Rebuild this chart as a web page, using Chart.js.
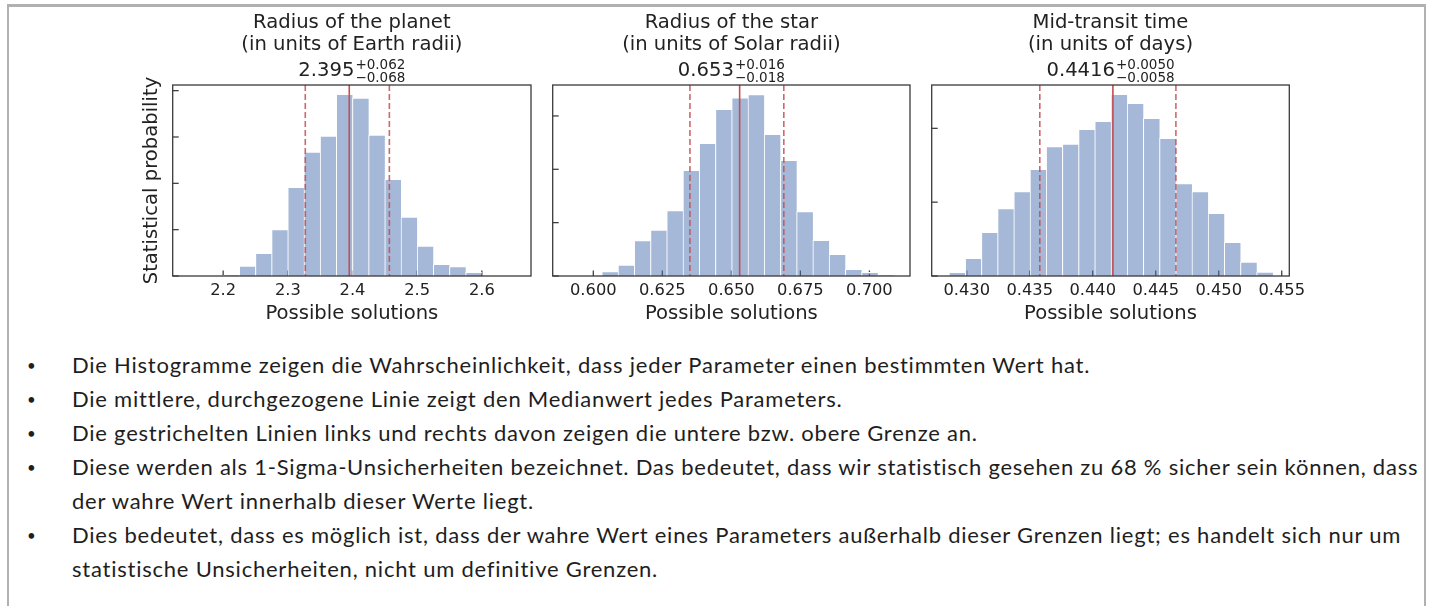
<!DOCTYPE html>
<html>
<head>
<meta charset="utf-8">
<script src="https://cdn.jsdelivr.net/npm/chart.js@4.4.1/dist/chart.umd.min.js"></script>
<style>
  html, body { margin: 0; padding: 0; background: #fff; }
  body { width: 1434px; height: 606px; position: relative; overflow: hidden; }
  .frame { position: absolute; left: 7px; top: 4px; width: 1419px; height: 640px; box-sizing: border-box;
           border-top: 3px solid #b1b1b1; border-left: 2px solid #b1b1b1; border-right: 2px solid #b1b1b1; }
  canvas.panel { position: absolute; top: 0; }
  ul.notes { position: absolute; left: 0; top: 348px; margin: 0; padding: 0; list-style: none;
             font-family: Lato, sans-serif; font-size: 22px; letter-spacing: 0.77px; color: #1e1e1e; }
  ul.notes li { position: relative; padding-left: 72px; line-height: 34px; white-space: nowrap; }
  ul.notes li::before { content: '\2022'; position: absolute; left: 27px; font-size: 15px; }
</style>
</head>
<body>
<div class="frame"></div>
<canvas class="panel" id="hist0"></canvas>
<canvas class="panel" id="hist1"></canvas>
<canvas class="panel" id="hist2"></canvas>
<ul class="notes">
  <li>Die Histogramme zeigen die Wahrscheinlichkeit, dass jeder Parameter einen bestimmten Wert hat.</li>
  <li>Die mittlere, durchgezogene Linie zeigt den Medianwert jedes Parameters.</li>
  <li>Die gestrichelten Linien links und rechts davon zeigen die untere bzw. obere Grenze an.</li>
  <li>Diese werden als 1-Sigma-Unsicherheiten bezeichnet. Das bedeutet, dass wir statistisch gesehen zu 68&#8239;% sicher sein können, dass<br>der wahre Wert innerhalb dieser Werte liegt.</li>
  <li>Dies bedeutet, dass es möglich ist, dass der wahre Wert eines Parameters außerhalb dieser Grenzen liegt; es handelt sich nur um<br>statistische Unsicherheiten, nicht um definitive Grenzen.</li>
</ul>
<script>
// ---- data ----
// radius of the planet: first bin edge, bin width, bar heights
const planetBinStart = 2.2;
const planetBinWidth = 0.025;
const planetHeights = [0.014, 0.216, 0.489, 1.0, 1.914, 2.676, 3.022, 3.921, 3.842, 3.043, 2.086, 1.273, 0.647, 0.252, 0.201, 0.079];
const planetTicks = [2.2, 2.3, 2.4, 2.5, 2.6];
const planetTickLabels = ['2.2', '2.3', '2.4', '2.5', '2.6'];

// radius of the star
const starBinStart = 0.6031;
const starBinWidth = 0.00588;
const starHeights = [0.081, 0.206, 0.663, 0.863, 1.225, 1.981, 2.488, 3.125, 3.338, 3.4, 2.656, 2.169, 1.206, 0.669, 0.406, 0.125, 0.069, 0.02];
const starTicks = [0.600, 0.625, 0.650, 0.675, 0.700];
const starTickLabels = ['0.600', '0.625', '0.650', '0.675', '0.700'];

// mid-transit time
const timeBinStart = 0.4286;
const timeBinWidth = 0.001285;
const timeHeights = [0.05, 0.239, 0.591, 0.912, 1.142, 1.445, 1.752, 1.788, 1.986, 2.095, 2.46, 2.339, 2.135, 1.865, 1.251, 1.142, 0.849, 0.456, 0.19, 0.054];
const timeTicks = [0.430, 0.435, 0.440, 0.445, 0.450, 0.455];
const timeTickLabels = ['0.430', '0.435', '0.440', '0.445', '0.450', '0.455'];

const titles = [
  ['Radius of the planet', '(in units of Earth radii)'],
  ['Radius of the star', '(in units of Solar radii)'],
  ['Mid-transit time', '(in units of days)']
];
const medians = [2.395, 0.653, 0.4416];
const errPlus = [0.062, 0.016, 0.0050];
const errMinus = [0.068, 0.018, 0.0058];
const medianLabels = ['2.395', '0.653', '0.4416'];
const plusLabels = ['+0.062', '+0.016', '+0.0050'];
const minusLabels = ['\u22120.068', '\u22120.018', '\u22120.0058'];
const xRanges = [[2.122, 2.676], [0.5853, 0.7147], [0.42722, 0.4556]];
const yMax = [4.122, 3.58, 2.587];
const yTicks = [[0, 1, 2, 3, 4], [0, 1, 2, 3], [0, 1, 2]];

// ---- layout ----
const boxLeft = [172.7, 552.7, 931.7];
const boxRight = [531, 910, 1289.3];
const PLOT_TOP = 85, PLOT_BOTTOM = 276, CANVAS_H = 330;
const INK = '#222222';
const SPINE = '#3a3a3a';
const FONT = '"DejaVu Sans", sans-serif';

const panels = [
  { start: planetBinStart, width: planetBinWidth, heights: planetHeights, ticks: planetTicks, labels: planetTickLabels },
  { start: starBinStart, width: starBinWidth, heights: starHeights, ticks: starTicks, labels: starTickLabels },
  { start: timeBinStart, width: timeBinWidth, heights: timeHeights, ticks: timeTicks, labels: timeTickLabels }
];

function makeDecor(i) {
  const p = panels[i];
  return {
    id: 'histDecor' + i,
    // x ticks sit below the bars (seaborn axisbelow)
    beforeDatasetsDraw(chart) {
      const { ctx, chartArea: a, scales: { x } } = chart;
      ctx.save();
      ctx.strokeStyle = SPINE;
      ctx.lineWidth = 1.25;
      p.ticks.forEach(v => {
        const px = x.getPixelForValue(v);
        ctx.beginPath();
        ctx.moveTo(px, a.bottom);
        ctx.lineTo(px, a.bottom - 5.5);
        ctx.stroke();
      });
      ctx.restore();
    },
    afterDatasetsDraw(chart) {
      const { ctx, chartArea: a, scales: { x, y } } = chart;
      ctx.save();
      // median + 1-sigma bounds
      const vline = (v, dashed) => {
        const px = x.getPixelForValue(v);
        ctx.beginPath();
        ctx.setLineDash(dashed ? [6, 3] : []);
        ctx.strokeStyle = dashed ? 'rgba(196,78,82,0.85)' : '#c44e52';
        ctx.lineWidth = 1.6;
        ctx.moveTo(px, a.top);
        ctx.lineTo(px, a.bottom);
        ctx.stroke();
      };
      vline(medians[i] - errMinus[i], true);
      vline(medians[i], false);
      vline(medians[i] + errPlus[i], true);
      ctx.setLineDash([]);

      // frame
      ctx.strokeStyle = SPINE;
      ctx.lineWidth = 1.3;
      ctx.strokeRect(a.left, a.top, a.right - a.left, a.bottom - a.top);

      // y ticks, pointing inwards
      ctx.lineWidth = 1.25;
      yTicks[i].forEach(v => {
        const py = y.getPixelForValue(v);
        ctx.beginPath();
        ctx.moveTo(a.left, py);
        ctx.lineTo(a.left + 6, py);
        ctx.stroke();
      });
      ctx.restore();
    },
    afterDraw(chart) {
      const { ctx, chartArea: a } = chart;
      const cx = (a.left + a.right) / 2;
      ctx.save();
      ctx.fillStyle = INK;
      ctx.textBaseline = 'alphabetic';
      ctx.textAlign = 'center';
      ctx.font = '19.6px ' + FONT;
      ctx.fillText(titles[i][0], cx, 27.5);
      ctx.fillText(titles[i][1], cx, 49.5);

      // value with upper / lower error
      const mainW = ctx.measureText(medianLabels[i]).width;
      ctx.font = '13.5px ' + FONT;
      const sideW = Math.max(ctx.measureText(plusLabels[i]).width, ctx.measureText(minusLabels[i]).width);
      const x0 = cx - (mainW + 1 + sideW) / 2;
      ctx.textAlign = 'left';
      ctx.fillText(plusLabels[i], x0 + mainW + 1, 69);
      ctx.fillText(minusLabels[i], x0 + mainW + 1, 81.5);
      ctx.font = '19.6px ' + FONT;
      ctx.fillText(medianLabels[i], x0, 76);
      ctx.restore();
    }
  };
}

function makePanel(i) {
  const p = panels[i];
  const canvas = document.getElementById('hist' + i);
  const left = Math.round(boxLeft[i] - 43);
  const yAxisW = boxLeft[i] - left;
  const width = Math.ceil(boxRight[i] - left + 30);
  canvas.width = width;
  canvas.height = CANVAS_H;
  canvas.style.left = left + 'px';
  canvas.style.width = width + 'px';
  canvas.style.height = CANVAS_H + 'px';

  const bars = p.heights.map((h, k) => ({ x: p.start + (k + 0.5) * p.width, y: h }));

  return new Chart(canvas, {
    type: 'bar',
    data: {
      datasets: [{
        data: bars,
        backgroundColor: 'rgba(76,114,176,0.5)',
        borderColor: '#ffffff',
        borderWidth: { top: 1, left: 1, right: 0, bottom: 0 },
        barPercentage: 1,
        categoryPercentage: 1
      }]
    },
    options: {
      responsive: false,
      animation: false,
      devicePixelRatio: 1,
      events: [],
      layout: { padding: { top: PLOT_TOP, right: width - (boxRight[i] - left), bottom: 0, left: 0 } },
      plugins: { legend: { display: false }, tooltip: { enabled: false }, title: { display: false } },
      scales: {
        x: {
          type: 'linear',
          offset: false,
          min: xRanges[i][0],
          max: xRanges[i][1],
          grid: { display: false, drawTicks: false },
          border: { display: false },
          afterBuildTicks: (scale) => { scale.ticks = p.ticks.map(v => ({ value: v })); },
          ticks: {
            autoSkip: false, maxRotation: 0, minRotation: 0, padding: 5,
            color: INK, font: { family: FONT, size: 16.3, lineHeight: 1.2 },
            callback: (v, k) => p.labels[k]
          },
          title: {
            display: true, text: 'Possible solutions', color: INK,
            font: { family: FONT, size: 19.6, lineHeight: 1.2 },
            padding: { top: 0, bottom: 4.5 }
          },
          afterFit: (scale) => {
            scale.height = CANVAS_H - PLOT_BOTTOM;
            scale.paddingLeft = 0;
            scale.paddingRight = 0;
          }
        },
        y: {
          min: 0,
          max: yMax[i],
          grid: { display: false, drawTicks: false },
          border: { display: false },
          ticks: { display: false },
          title: {
            display: i === 0, text: 'Statistical probability', color: INK,
            font: { family: FONT, size: 19.6, lineHeight: 1.2 },
            padding: { top: 10, bottom: 0 }
          },
          afterFit: (scale) => { scale.width = yAxisW; }
        }
      }
    },
    plugins: [makeDecor(i)]
  });
}

window.addEventListener('DOMContentLoaded', () => {
  panels.forEach((p, i) => makePanel(i));
});
</script>
</body>
</html>
